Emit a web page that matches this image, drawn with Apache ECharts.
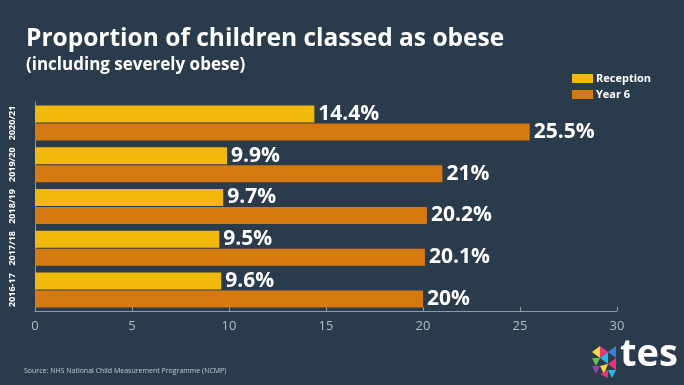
<!DOCTYPE html>
<html><head><meta charset="utf-8">
<script src="https://cdn.jsdelivr.net/npm/echarts@6/dist/echarts.min.js"></script>
<style>html,body{margin:0;padding:0;background:#2a3b4c;}#c{width:684px;height:385px;}</style>
</head><body><div id="c"></div>
<script>
const categories = ['2016-17', '2017/18', '2018/19', '2019/20', '2020/21'];
const reception = [9.6, 9.5, 9.7, 9.9, 14.4];
const year6 = [20, 20.1, 20.2, 21, 25.5];
const xTicks = [0, 5, 10, 15, 20, 25, 30];
const FONT = '"Open Sans", "Noto Sans", sans-serif';

const chart = echarts.init(document.getElementById('c'), null, {renderer: 'canvas'});
const tri = (pts, color) => ({type: 'polygon', shape: {points: pts}, style: {fill: color}});
const lbl = {show: true, position: 'right', distance: 4, formatter: '{c}%', color: '#ffffff', fontFamily: FONT, fontWeight: 'bold', fontSize: 21};
chart.setOption({
  backgroundColor: '#2a3b4c',
  animation: false,
  title: [{
    text: 'Proportion of children classed as obese',
    left: 21, top: 22,
    textStyle: {color: '#ffffff', fontFamily: FONT, fontWeight: 'bold', fontSize: 24.5}
  }, {
    text: '(including severely obese)',
    left: 21, top: 52,
    textStyle: {color: '#ffffff', fontFamily: FONT, fontWeight: 'bold', fontSize: 17}
  }],
  legend: {
    data: ['Reception', 'Year 6'],
    orient: 'vertical', left: 567, top: 68,
    itemWidth: 21, itemHeight: 9, itemGap: 5,
    icon: 'rect',
    textStyle: {color: '#ffffff', fontFamily: FONT, fontWeight: 'bold', fontSize: 11, padding: [0,0,0,-2]}
  },
  grid: {left: 35, right: 67, top: 102, bottom: 74},
  xAxis: {
    type: 'value', min: xTicks[0], max: xTicks[xTicks.length-1], interval: 5,
    axisLine: {show: true, lineStyle: {color: '#8d9aa8', width: 1}},
    axisTick: {show: true, inside: true, length: 4, lineStyle: {color: '#8d9aa8'}},
    splitLine: {show: false},
    axisLabel: {color: '#b4bdc7', fontFamily: FONT, fontSize: 13, margin: 9}
  },
  yAxis: {
    type: 'category', data: categories,
    axisLine: {show: true, lineStyle: {color: '#8d9aa8'}},
    axisTick: {show: false},
    axisLabel: {interval: 0, rotate: 90, color: '#ffffff', fontFamily: FONT, fontWeight: 'bold', fontSize: 9, margin: 18}
  },
  series: [{
    name: 'Reception', type: 'bar', data: reception,
    barWidth: 17, barGap: '6%',
    itemStyle: {color: '#f0b90c'},
    label: lbl
  }, {
    name: 'Year 6', type: 'bar', data: year6,
    barWidth: 17, barGap: '6%',
    itemStyle: {color: '#d47a10'},
    label: lbl
  }],
  graphic: [
    {type: 'text', left: 24, top: 367, style: {text: 'Source: NHS National Child Measurement Programme (NCMP)', fill: '#c3cbd3', font: '7px ' + FONT}},
    {type: 'text', left: 620, top: 336, style: {text: 'tes', fill: '#ffffff', font: 'bold 38px ' + FONT}},
    {type: 'group', left: 592, top: 346, children: [
      tri([[8,0],[16,6],[8,12]], '#e8357a'),
      tri([[0,6],[8,0],[8,12]], '#f6d93b'),
      tri([[16,6],[24,0],[24,12]], '#3a7bd5'),
      tri([[0,12],[8,12],[4,20]], '#6bc04b'),
      tri([[8,12],[16,6],[16,18]], '#29b6e8'),
      tri([[16,18],[24,12],[24,24]], '#e8357a'),
      tri([[8,20],[16,18],[12,28]], '#f6d93b'),
      tri([[0,20],[8,20],[4,28]], '#8e44ad'),
      tri([[16,24],[24,24],[20,32]], '#29b6e8'),
      tri([[8,28],[16,24],[16,32]], '#e8357a')
    ]}
  ]
});
</script></body></html>
